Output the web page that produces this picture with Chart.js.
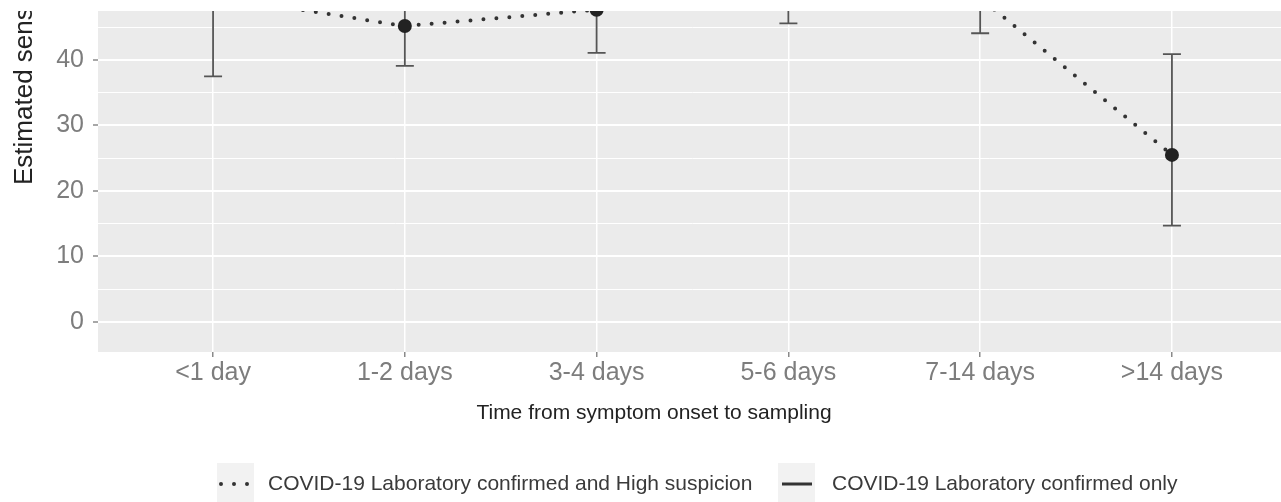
<!DOCTYPE html>
<html>
<head>
<meta charset="utf-8">
<script src="https://cdn.jsdelivr.net/npm/chart.js@4.4.1/dist/chart.umd.min.js"></script>
<style>
  html, body { margin: 0; padding: 0; background: #fff; overflow: hidden; }
  #wrap { width: 1294px; height: 502px; }
</style>
</head>
<body>
<div id="wrap"><canvas id="chart" width="1294" height="502"></canvas></div>
<script>
// categories on the x axis
const categories = ["<1 day", "1-2 days", "3-4 days", "5-6 days", "7-14 days", ">14 days"];

// laboratory confirmed + high suspicion (dotted), estimated sensitivity %
const suspValues = [49.8, 45.2, 47.7, 53.0, 49.5, 25.5];
const suspLower = [37.5, 39.1, 41.1, 45.6, 44.1, 14.7];
const suspUpper = [62.0, 51.5, 54.0, 60.0, 55.0, 40.9];

// laboratory confirmed only (solid) - sits above the cropped area, nothing visible
const labValues = [null, null, null, null, null, null];

// y axis ticks (labels every 10, minor grid every 5)
const yTicks = [0, 5, 10, 15, 20, 25, 30, 35, 40, 45];

const FONT = "'Liberation Sans', Arial, sans-serif";

// grey panel background
const panelBg = {
  id: "panelBg",
  beforeDraw(chart) {
    const { ctx, chartArea: a } = chart;
    ctx.save();
    ctx.fillStyle = "#EBEBEB";
    ctx.fillRect(a.left, a.top, a.right - a.left, a.bottom - a.top);
    ctx.restore();
  },
};

// error bars drawn under the points
const errorBars = {
  id: "errorBars",
  beforeDatasetsDraw(chart) {
    const { ctx, chartArea: a, scales } = chart;
    ctx.save();
    ctx.beginPath();
    ctx.rect(a.left, a.top, a.right - a.left, a.bottom - a.top);
    ctx.clip();
    ctx.strokeStyle = "#555555";
    ctx.lineWidth = 1.8;
    suspValues.forEach((v, i) => {
      const x = scales.x.getPixelForValue(i);
      const y1 = scales.y.getPixelForValue(suspLower[i]);
      const y2 = scales.y.getPixelForValue(suspUpper[i]);
      ctx.beginPath();
      ctx.moveTo(x, y1);
      ctx.lineTo(x, y2);
      ctx.moveTo(x - 9, y1);
      ctx.lineTo(x + 9, y1);
      ctx.moveTo(x - 9, y2);
      ctx.lineTo(x + 9, y2);
      ctx.stroke();
    });
    ctx.restore();
  },
};

// axis titles and the ggplot style legend
const titlesAndLegend = {
  id: "titlesAndLegend",
  afterDraw(chart) {
    const { ctx } = chart;
    ctx.save();
    // x title
    ctx.fillStyle = "#222";
    ctx.font = "21px " + FONT;
    ctx.textAlign = "center";
    ctx.textBaseline = "middle";
    ctx.fillText("Time from symptom onset to sampling", 654, 413);

    // y title, top part is cropped away
    ctx.save();
    ctx.beginPath();
    ctx.rect(0, 11, 60, 491);
    ctx.clip();
    ctx.translate(32, 185);
    ctx.rotate(-Math.PI / 2);
    ctx.font = "26px " + FONT;
    ctx.textAlign = "left";
    ctx.textBaseline = "alphabetic";
    ctx.fillText("Estimated sensitivity (%)", 0, 0);
    ctx.restore();

    // legend
    const ds = chart.data.datasets;
    const keys = [
      { x: 217, textX: 268, set: ds[0] },
      { x: 778, textX: 832, set: ds[1] },
    ];
    keys.forEach((k) => {
      ctx.fillStyle = "#F2F2F2";
      ctx.fillRect(k.x, 463, 37, 40);
      ctx.strokeStyle = "#333";
      ctx.lineWidth = k.set.borderWidth;
      ctx.lineCap = k.set.borderCapStyle || "butt";
      ctx.setLineDash(k.set.borderDash || []);
      ctx.beginPath();
      ctx.moveTo(k.x + 4, 484);
      ctx.lineTo(k.x + 34, 484);
      ctx.stroke();
      ctx.setLineDash([]);
      ctx.fillStyle = "#3a3a3a";
      ctx.font = "21px " + FONT;
      ctx.textAlign = "left";
      ctx.textBaseline = "middle";
      ctx.fillText(k.set.label, k.textX, 484);
    });
    ctx.restore();
  },
};

function noPad(s) {
  s.paddingTop = 0;
  s.paddingBottom = 0;
  s.paddingLeft = 0;
  s.paddingRight = 0;
}

new Chart(document.getElementById("chart"), {
  type: "line",
  data: {
    datasets: [
      {
        label: "COVID-19 Laboratory confirmed and High suspicion",
        data: suspValues.map((v, i) => ({ x: i, y: v })),
        borderColor: "#333333",
        borderWidth: 4,
        borderDash: [0, 13],
        borderCapStyle: "round",
        pointRadius: 7,
        pointBackgroundColor: "#222222",
        pointBorderWidth: 0,
        clip: 0,
      },
      {
        label: "COVID-19 Laboratory confirmed only",
        data: labValues.map((v, i) => ({ x: i, y: v })),
        borderColor: "#333333",
        borderWidth: 3,
        pointRadius: 7,
        pointBackgroundColor: "#222222",
        pointBorderWidth: 0,
        clip: 0,
      },
    ],
  },
  options: {
    responsive: false,
    animation: false,
    layout: { padding: { left: 0, top: 11, right: 3, bottom: 0 } },
    plugins: {
      legend: { display: false },
      tooltip: { enabled: false },
    },
    scales: {
      x: {
        type: "linear",
        min: -0.6,
        max: 5.6,
        afterBuildTicks: (s) => {
          s.ticks = categories.map((c, i) => ({ value: i }));
        },
        afterFit: (s) => {
          s.height = 150;
          noPad(s);
        },
        ticks: {
          callback: (v) => categories[v],
          color: "#7d7d7d",
          font: { family: FONT, size: 25 },
          padding: 1,
          maxRotation: 0,
          autoSkip: false,
        },
        grid: {
          color: "#ffffff",
          lineWidth: 1.5,
          tickLength: 5,
          tickColor: "#8a8a8a",
          tickWidth: 1.5,
        },
        border: { display: false },
      },
      y: {
        min: -4.63,
        max: 47.5,
        afterBuildTicks: (s) => {
          s.ticks = yTicks.map((v) => ({ value: v }));
        },
        afterFit: (s) => {
          s.width = 98;
          noPad(s);
        },
        ticks: {
          callback: (v) => (v % 10 === 0 ? v : ""),
          color: "#7d7d7d",
          font: { family: FONT, size: 25 },
          padding: 9,
        },
        grid: {
          color: "#ffffff",
          lineWidth: (c) => (c.tick && c.tick.value % 10 === 0 ? 2 : 1),
          tickLength: 5,
          tickColor: (c) => (c.tick && c.tick.value % 10 === 0 ? "#8a8a8a" : "rgba(0,0,0,0)"),
          tickWidth: 1.5,
        },
        border: { display: false },
      },
    },
  },
  plugins: [panelBg, errorBars, titlesAndLegend],
});
</script>
</body>
</html>
